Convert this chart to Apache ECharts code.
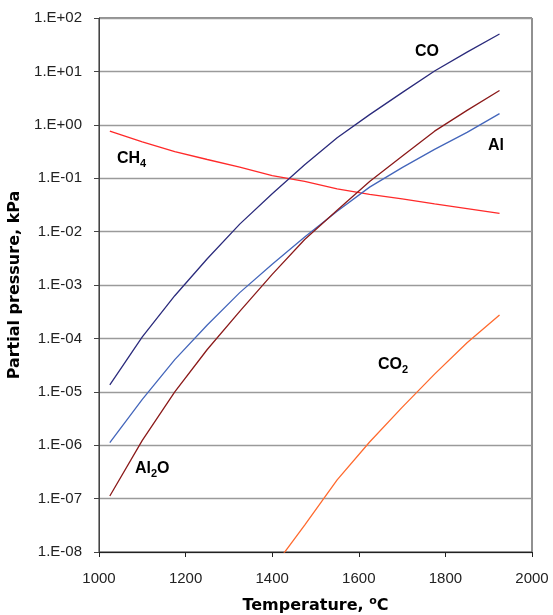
<!DOCTYPE html>
<html><head><meta charset="utf-8">
<script src="https://cdn.jsdelivr.net/npm/echarts@6/dist/echarts.min.js"></script>
<style>html,body{margin:0;padding:0;background:#fff}#c{width:553px;height:615px}</style>
</head><body><div id="c"></div>
<script>
var temperatures = [1025, 1100, 1175, 1250, 1325, 1400, 1475, 1550, 1625, 1700, 1775, 1850, 1925];
var coValues   = [1.35e-5, 1.07e-4, 6.3e-4, 3.1e-3, 1.38e-2, 5.1e-2, 0.178, 0.57, 1.55, 4.0, 10.2, 22.9, 50.1];
var alValues   = [1.12e-6, 7.2e-6, 4.0e-5, 1.78e-4, 7.2e-4, 2.45e-3, 7.9e-3, 2.4e-2, 6.8e-2, 0.158, 0.347, 0.72, 1.62];
var al2oValues = [1.12e-7, 1.23e-6, 1.0e-5, 6.2e-5, 3.2e-4, 1.58e-3, 7.1e-3, 2.5e-2, 8.7e-2, 0.257, 0.76, 1.86, 4.4];
var ch4Values  = [0.76, 0.48, 0.316, 0.224, 0.162, 0.112, 0.087, 0.063, 0.050, 0.041, 0.033, 0.027, 0.022];
var co2Values  = [null, null, null, null, null, 4.8e-9, 3.2e-8, 2.24e-7, 1.15e-6, 5.1e-6, 2.14e-5, 8.3e-5, 2.75e-4];
var xTicks = [1000, 1200, 1400, 1600, 1800, 2000];
var yTickLabels = ['1.E-08','1.E-07','1.E-06','1.E-05','1.E-04','1.E-03','1.E-02','1.E-01','1.E+00','1.E+01','1.E+02'];

function pairs(vals){ return temperatures.map(function(t,i){ return [t, vals[i]]; }); }
var FONT = '"Liberation Sans", Arial, Helvetica, sans-serif';
var TFONT = '"DejaVu Sans", "Liberation Sans", Arial, sans-serif';
function mk(name, vals, color){
  return { name: name, type: 'line', data: pairs(vals), showSymbol: false, symbol: 'none', smooth: false,
    clip: true, connectNulls: false, lineStyle: { color: color, width: 1.3 }, itemStyle: { color: color }, z: 3 };
}
var chart = echarts.init(document.getElementById('c'), null, { renderer: 'canvas' });
var labelRich = {
  b: { fontSize: 16, fontWeight: 'bold', fontFamily: FONT, color: '#000', lineHeight: 20 },
  s: { fontSize: 11, fontWeight: 'bold', fontFamily: FONT, color: '#000', lineHeight: 11, verticalAlign: 'bottom' }
};
function ann(text, x, y){
  return { type: 'text', x: x, y: y, z: 10,
    style: { text: text, rich: labelRich, align: 'left', verticalAlign: 'middle', fill: '#000' } };
}
chart.setOption({
  animation: false,
  backgroundColor: '#fff',
  grid: { left: 99, right: 21, top: 18, bottom: 63, outerBoundsMode: 'none', containLabel: false,
    show: true, borderColor: '#222', borderWidth: 1, backgroundColor: 'transparent' },
  xAxis: {
    type: 'value', min: xTicks[0], max: xTicks[xTicks.length-1], interval: 200,
    axisLine: { show: true, lineStyle: { color: '#222', width: 1 } },
    axisTick: { show: true, inside: false, length: 5, lineStyle: { color: '#222' } },
    splitLine: { show: false },
    axisLabel: { fontSize: 15, color: '#222', fontFamily: FONT, margin: 19, formatter: function(v){ return String(v); } },
    name: 'Temperature, {sup|o}C', nameLocation: 'middle', nameGap: 44,
    nameTextStyle: { fontSize: 16, fontWeight: 'bold', fontFamily: TFONT, color: '#000', lineHeight: 20,
      rich: { sup: { fontSize: 11, fontWeight: 'bold', fontFamily: TFONT, verticalAlign: 'top', lineHeight: 12, color: '#000' } } }
  },
  yAxis: {
    type: 'log', logBase: 10, min: 1e-8, max: 100, interval: 1,
    axisLine: { show: true, lineStyle: { color: '#444', width: 1 } },
    axisTick: { show: true, inside: false, length: 5, lineStyle: { color: '#444' } },
    splitLine: { show: true, lineStyle: { color: '#9a9a9a', width: 1.3 } },
    minorTick: { show: false }, minorSplitLine: { show: false },
    axisLabel: { fontSize: 15, color: '#222', fontFamily: FONT, margin: 17,
      formatter: function(v){ var e = Math.round(Math.log10(v)); return yTickLabels[e + 8]; } },
    name: 'Partial pressure, kPa', nameLocation: 'middle', nameGap: 70, nameRotate: 90,
    nameTextStyle: { fontSize: 16, fontWeight: 'bold', fontFamily: TFONT, color: '#000' }
  },
  series: [
    mk('CH4', ch4Values, '#ff2a2a'),
    mk('CO2', co2Values, '#ff6a2e'),
    mk('Al', alValues, '#4466bb'),
    mk('Al2O', al2oValues, '#8b1a1a'),
    mk('CO', coValues, '#2b2b7c')
  ],
  graphic: [
    ann('{b|CO}', 415, 52),
    ann('{b|Al}', 488, 146),
    ann('{b|CH}{s|4}', 117, 159),
    ann('{b|Al}{s|2}{b|O}', 135, 469),
    ann('{b|CO}{s|2}', 378, 365)
  ]
});
</script></body></html>
